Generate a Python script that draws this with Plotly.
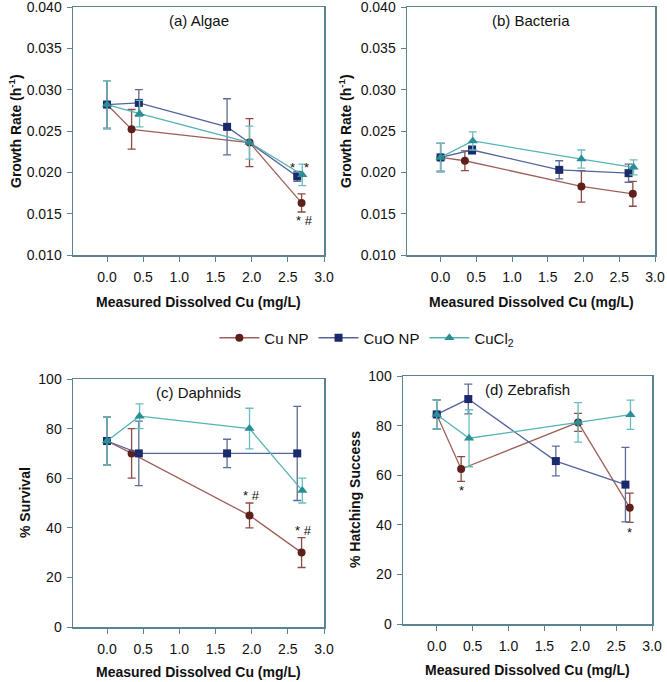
import plotly.graph_objects as go

# ---------------- data ----------------
series_names = ["Cu NP", "CuO NP", "CuCl<sub>2</sub>"]

x_cunp = [0.0, 0.34, 1.97, 2.69]
x_cuo = [0.0, 0.44, 1.66, 2.63]
x_cucl2 = [0.0, 0.45, 1.97, 2.70]

# (a) Algae growth rate (h^-1)
algae_cunp = [0.0282, 0.0252, 0.0236, 0.0163]
algae_cunp_err = [0.0029, 0.0024, 0.0029, 0.0011]
algae_cuo = [0.0282, 0.0284, 0.0255, 0.0195]
algae_cuo_err = [0.0029, 0.0016, 0.0034, 0.0006]
algae_cucl2 = [0.0282, 0.0271, 0.0236, 0.0197]
algae_cucl2_err = [0.0029, 0.0016, 0.0020, 0.0013]

# (b) Bacteria growth rate (h^-1)
bact_cunp = [0.0218, 0.0214, 0.0183, 0.0174]
bact_cunp_err = [0.0017, 0.0012, 0.0019, 0.0015]
bact_cuo = [0.0218, 0.0227, 0.0203, 0.0199]
bact_cuo_err = [0.0017, 0.0005, 0.0011, 0.0011]
bact_cucl2 = [0.0218, 0.0238, 0.0216, 0.0206]
bact_cucl2_err = [0.0017, 0.0011, 0.0011, 0.0009]

# (c) Daphnids % survival
daph_cunp = [75, 70, 45, 30]
daph_cunp_err = [9.6, 10, 5, 6]
daph_cuo = [75, 70, 70, 70]
daph_cuo_err = [9.6, 13, 5.7, 19]
daph_cucl2 = [75, 85, 80, 55]
daph_cucl2_err = [9.6, 5, 8.2, 5]

# (d) Zebrafish % hatching success
zeb_cunp = [84.5, 62.5, 81.3, 46.9]
zeb_cunp_err = [5.9, 5, 3.6, 5.9]
zeb_cuo = [84.5, 90.7, 65.7, 56.2]
zeb_cuo_err = [5.9, 6, 6, 15]
zeb_cucl2 = [84.5, 74.9, 81.3, 84.4]
zeb_cucl2_err = [5.9, 11.5, 8, 5.9]

panel_titles = ["(a) Algae", "(b) Bacteria", "(c) Daphnids", "(d) Zebrafish"]
y_titles = ["Growth Rate (h<sup>-1</sup>)", "Growth Rate (h<sup>-1</sup>)",
            "% Survival", "% Hatching Success"]
x_title = "Measured Dissolved Cu (mg/L)"
x_ticks = [0, 0.5, 1, 1.5, 2, 2.5, 3]
x_ticktext = ["0.0", "0.5", "1.0", "1.5", "2.0", "2.5", "3.0"]

# ---------------- styling ----------------
marker_colors = ["#5e201b", "#1b2a6b", "#2b8e94"]
line_colors = ["#a0605a", "#55649c", "#55b3b3"]
err_colors = ["#8c4c46", "#5e6c98", "#6abdbd"]
symbols = ["circle", "square", "triangle-up"]
frame = "#5a8490"
font_family = "Liberation Sans, Arial, sans-serif"

W, H = 667, 682
# panel pixel boxes: left, right, top, bottom
boxes = [(73, 324, 7, 255), (407, 655, 7, 255), (73, 324, 379, 627), (403, 652, 376, 624)]
# axis-title pixel positions: (x-title y, y-title x)
title_pos = [(302, 15), (302, 345), (672, 25), (670, 355)]

panels = [
    ([algae_cunp, algae_cuo, algae_cucl2], [algae_cunp_err, algae_cuo_err, algae_cucl2_err]),
    ([bact_cunp, bact_cuo, bact_cucl2], [bact_cunp_err, bact_cuo_err, bact_cucl2_err]),
    ([daph_cunp, daph_cuo, daph_cucl2], [daph_cunp_err, daph_cuo_err, daph_cucl2_err]),
    ([zeb_cunp, zeb_cuo, zeb_cucl2], [zeb_cunp_err, zeb_cuo_err, zeb_cucl2_err]),
]
xs = [x_cunp, x_cuo, x_cucl2]

fig = go.Figure()
annotations = []
layout = dict(
    width=W, height=H, margin=dict(l=0, r=0, t=0, b=0, autoexpand=False),
    paper_bgcolor="white", plot_bgcolor="white",
    font=dict(family=font_family, size=14, color="#111"),
    showlegend=True, hovermode=False,
    legend=dict(orientation="h", x=0.55, xanchor="center", y=1 - 338 / H, yanchor="middle",
                font=dict(size=15), itemwidth=40, tracegroupgap=0, bgcolor="rgba(0,0,0,0)"),
)

for p, (vals, errs) in enumerate(panels):
    ax = "" if p == 0 else str(p + 1)
    l, r, t, b = boxes[p]
    gr = p < 2
    layout["xaxis" + ax] = dict(
        domain=[l / W, r / W], anchor="y" + ax, range=[-0.47, 3.0],
        tickvals=x_ticks, ticktext=x_ticktext, automargin=False, ticklabeloverflow="allow",
        ticklabelstandoff=4,
        showline=True, linecolor=frame, linewidth=1.5, mirror=True,
        ticks="outside", ticklen=5, tickcolor=frame, showgrid=False, zeroline=False,
        tickfont=dict(size=14),
    )
    layout["yaxis" + ax] = dict(
        domain=[1 - b / H, 1 - t / H], anchor="x" + ax, automargin=False,
        ticklabeloverflow="allow", ticklabelstandoff=2,
        range=[0.010, 0.040] if gr else [0, 100],
        dtick=0.005 if gr else 20,
        tickformat=".3f" if gr else "d",
        showline=True, linecolor=frame, linewidth=1.5, mirror=True,
        ticks="outside", ticklen=5, tickcolor=frame, showgrid=False, zeroline=False,
        tickfont=dict(size=14),
    )
    for s in range(3):
        fig.add_trace(go.Scatter(
            x=xs[s], y=vals[s], mode="lines+markers", name=series_names[s],
            legendgroup=series_names[s], showlegend=(p == 0),
            xaxis="x" + ax, yaxis="y" + ax,
            line=dict(color=line_colors[s], width=1.3),
            marker=dict(color=marker_colors[s], symbol=symbols[s], size=8 if s < 2 else 9,
                        line=dict(width=0)),
            error_y=dict(type="data", array=errs[s], visible=True, color=err_colors[s],
                         thickness=1.3, width=4),
        ))
    annotations.append(dict(
        text=panel_titles[p], xref="x" + ax + " domain", yref="y" + ax + " domain",
        x=0.5, y=0.945, xanchor="center", yanchor="middle", showarrow=False,
        font=dict(size=15, color="#111")))
    xt_y, yt_x = title_pos[p]
    annotations.append(dict(
        text="<b>" + x_title + "</b>", xref="paper", yref="paper",
        x=(l + r) / 2 / W, y=1 - xt_y / H, xanchor="center", yanchor="middle",
        showarrow=False, font=dict(size=14, color="#111")))
    annotations.append(dict(
        text="<b>" + y_titles[p] + "</b>", xref="paper", yref="paper", textangle=-90,
        x=yt_x / W, y=1 - (t + b) / 2 / H, xanchor="center", yanchor="middle",
        showarrow=False, font=dict(size=14, color="#111")))

# significance markers
sig = [
    ("x", "y", 2.56, 0.0206, "*"), ("x", "y", 2.76, 0.0206, "*"), ("x", "y", 2.73, 0.0142, "* #"),
    ("x3", "y3", 2.0, 53, "* #"), ("x3", "y3", 2.72, 39, "* #"),
    ("x4", "y4", 0.34, 54, "*"), ("x4", "y4", 2.69, 37, "*"),
]
for xr, yr, xv, yv, txt in sig:
    annotations.append(dict(text=txt, xref=xr, yref=yr, x=xv, y=yv, showarrow=False,
                            font=dict(size=13, color="#111")))

layout["annotations"] = annotations
fig.update_layout(**layout)
fig.write_html(
    "out.html",
    config={"displayModeBar": False, "staticPlot": True},
    post_script="document.body.style.margin='0';document.body.style.overflow='hidden';",
)
